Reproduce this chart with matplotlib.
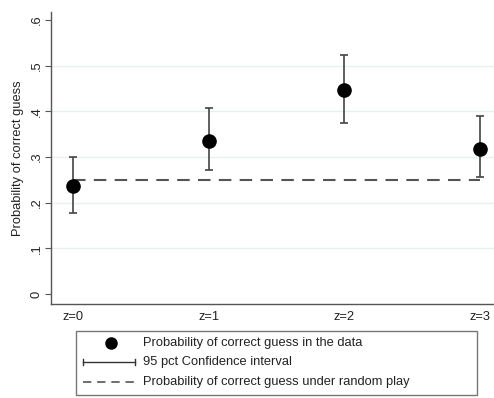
import matplotlib

matplotlib.use("Agg")
import matplotlib.pyplot as plt
from matplotlib.lines import Line2D
from matplotlib.patches import Rectangle

plt.rcParams["font.family"] = ["Liberation Sans", "DejaVu Sans"]

# estimates per z, with 95 pct confidence bounds
z_labels = ["z=0", "z=1", "z=2", "z=3"]
z_pos = [0, 1, 2, 3]
p_correct = [0.237, 0.334, 0.447, 0.317]
ci_low = [0.178, 0.272, 0.374, 0.257]
ci_high = [0.299, 0.407, 0.523, 0.390]
p_random = 0.25

y_ticks = [0, 0.1, 0.2, 0.3, 0.4, 0.5, 0.6]
y_ticklabels = ["0", ".1", ".2", ".3", ".4", ".5", ".6"]

legend_labels = [
    "Probability of correct guess in the data",
    "95 pct Confidence interval",
    "Probability of correct guess under random play",
]

W, H = 494, 398
FS = 9.3
fig = plt.figure(figsize=(W / 100, H / 100), dpi=100)
ax = fig.add_axes([51 / W, (H - 304) / H, (494 - 51) / W, (304 - 12) / H])

grey = "#555555"
for v in y_ticks[1:-1]:
    ax.axhline(v, color="#e8f0f2", lw=1.0, zorder=0)

ax.plot([z_pos[0], z_pos[-1]], [p_random, p_random], color=grey, lw=1.5,
        dashes=(6, 4), zorder=2)
yerr = [[p - lo for p, lo in zip(p_correct, ci_low)],
        [hi - p for p, hi in zip(p_correct, ci_high)]]
ax.errorbar(z_pos, p_correct, yerr=yerr, fmt="none", ecolor="#444444",
            elinewidth=1.2, capsize=3, capthick=1.2, zorder=3)
ax.plot(z_pos, p_correct, "o", color="black", ms=9.5, zorder=4)

ax.set_xlim(-0.162, 3.103)
ax.set_ylim(-0.022, 0.6175)
ax.set_xticks(z_pos)
ax.set_xticklabels(z_labels, fontsize=FS)
ax.set_yticks(y_ticks)
ax.set_yticklabels(y_ticklabels, fontsize=FS, rotation=90, va="center")
ax.tick_params(axis="x", length=0, pad=5, colors="#222222")
ax.tick_params(axis="y", length=4, width=0.8, color=grey, pad=2,
               labelcolor="#222222")
ax.set_ylabel("Probability of correct guess", fontsize=FS, labelpad=5,
              color="#222222")
for side in ("top", "right"):
    ax.spines[side].set_visible(False)
for side in ("left", "bottom"):
    ax.spines[side].set_color(grey)
    ax.spines[side].set_linewidth(1.0)

# legend box drawn in pixel coordinates
lax = fig.add_axes([0, 0, 1, 1])
lax.set_xlim(0, W)
lax.set_ylim(H, 0)
lax.axis("off")
lax.add_patch(Rectangle((76, 331), 401, 64, fill=False, ec="#777777", lw=1.0))
rows = [343, 362, 382]
lax.plot([111], [rows[0]], "o", color="black", ms=8)
lax.plot([83, 135], [rows[1], rows[1]], color="#333333", lw=1.0)
lax.plot([83, 83], [rows[1] - 3, rows[1] + 3], color="#333333", lw=1.0)
lax.plot([135, 135], [rows[1] - 3, rows[1] + 3], color="#333333", lw=1.0)
lax.add_line(Line2D([83, 136], [rows[2], rows[2]], color=grey, lw=1.2, dashes=(5, 3.5)))
for r, txt in zip(rows, legend_labels):
    lax.text(143, r, txt, fontsize=FS, va="center", ha="left", color="#222222")

fig.savefig("out.png", dpi=100)
